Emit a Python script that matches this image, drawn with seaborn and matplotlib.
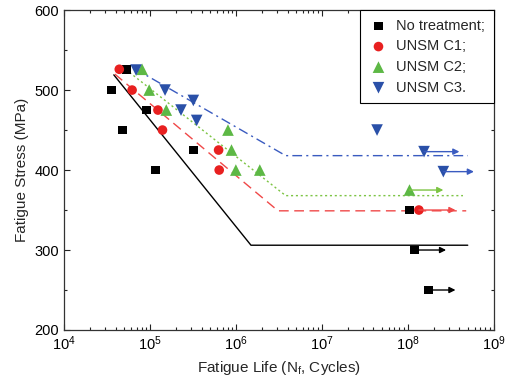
import numpy as np
import pandas as pd
import matplotlib
matplotlib.use("Agg")
import matplotlib.pyplot as plt
import seaborn as sns
from matplotlib.ticker import LogLocator, MultipleLocator, NullFormatter

# data (cycles, MPa)
no_n = [3.6e4, 5.3e4, 4.8e4, 9.1e4, 3.2e5, 1.17e5, 1.05e8, 1.2e8, 1.75e8]
no_s = [500, 526, 450, 475, 425, 400, 350, 300, 250]
c1_n = [4.4e4, 6.2e4, 1.24e5, 1.4e5, 6.3e5, 6.4e5, 1.35e8]
c1_s = [526, 500, 475, 450, 425, 400, 350]
c2_n = [8.1e4, 9.8e4, 1.55e5, 8.1e5, 8.9e5, 1.0e6, 1.9e6, 1.05e8]
c2_s = [526, 500, 475, 450, 425, 400, 400, 375]
c3_n = [6.9e4, 1.5e5, 3.2e5, 2.3e5, 3.5e5, 4.4e7, 1.55e8, 2.6e8]
c3_s = [525, 500, 487, 475, 462, 450, 423, 398]

# fitted S-N lines (start, knee, end)
fit_no_n = [3.8e4, 1.5e6, 5e8]
fit_no_s = [519, 306, 306]
fit_c1_n = [3.9e4, 3.1e6, 4.8e8]
fit_c1_s = [520, 349, 349]
fit_c2_n = [5.8e4, 3.8e6, 4.4e8]
fit_c2_s = [522, 368, 368]
fit_c3_n = [6.6e4, 3.8e6, 5e8]
fit_c3_s = [527, 418, 418]

# run-outs: (start N, end N, stress, series)
runout_start = [1.2e8, 1.75e8, 1.35e8, 1.05e8, 1.55e8, 2.6e8]
runout_end = [2.8e8, 3.6e8, 3.6e8, 2.6e8, 4.0e8, 5.9e8]
runout_s = [300, 250, 350, 375, 423, 398]
runout_grp = ["No treatment;", "No treatment;", "UNSM C1;", "UNSM C2;", "UNSM C3.", "UNSM C3."]

labels = ["No treatment;", "UNSM C1;", "UNSM C2;", "UNSM C3."]
point_colors = ["#000000", "#E82020", "#5DB845", "#2A50A8"]
line_colors = ["#000000", "#F04848", "#7CC443", "#3A5BC0"]
markers = ["s", "o", "^", "v"]
msizes = [40, 48, 70, 70]
styles = ["-", (0, (7, 4)), (0, (1.5, 2)), (0, (7, 3, 1.5, 3))]

sns.set_style("ticks")
plt.rcParams["font.family"] = ["Liberation Sans", "DejaVu Sans"]
plt.rcParams["mathtext.fontset"] = "custom"
plt.rcParams["mathtext.rm"] = "Liberation Sans"
plt.rcParams["mathtext.it"] = "Liberation Sans"

fig = plt.figure(figsize=(5.06, 3.88), dpi=100)
ax = fig.add_axes([0.1265, 0.1495, 0.849, 0.8245])

pts = pd.DataFrame({
    "N": no_n + c1_n + c2_n + c3_n,
    "S": no_s + c1_s + c2_s + c3_s,
    "grp": [labels[0]] * len(no_n) + [labels[1]] * len(c1_n)
           + [labels[2]] * len(c2_n) + [labels[3]] * len(c3_n),
})
fits = [(fit_no_n, fit_no_s), (fit_c1_n, fit_c1_s), (fit_c2_n, fit_c2_s), (fit_c3_n, fit_c3_s)]

for i, (fn, fs) in enumerate(fits):
    sns.lineplot(x=fn, y=fs, sort=False, color=line_colors[i], linestyle=styles[i],
                 lw=1.0, ax=ax, legend=False)

for i, lab in enumerate(labels):
    d = pts[pts["grp"] == lab]
    sns.scatterplot(data=d, x="N", y="S", marker=markers[i], s=msizes[i],
                    color=point_colors[i], edgecolor="none", ax=ax, label=lab, zorder=3)

for x0, x1, s, g in zip(runout_start, runout_end, runout_s, runout_grp):
    c = line_colors[labels.index(g)]
    ax.annotate("", xy=(x1, s), xytext=(x0, s),
                arrowprops=dict(arrowstyle="-|>", color=c, lw=1.0,
                                mutation_scale=9, shrinkA=0, shrinkB=0))

ax.set_xscale("log")
ax.set_xlim(1e4, 1e9)
ax.set_ylim(200, 600)
ax.yaxis.set_major_locator(MultipleLocator(100))
ax.yaxis.set_minor_locator(MultipleLocator(50))
ax.xaxis.set_major_locator(LogLocator(base=10, numticks=10))
ax.xaxis.set_minor_locator(LogLocator(base=10, subs=np.arange(2, 10), numticks=20))
ax.xaxis.set_minor_formatter(NullFormatter())
ax.tick_params(which="both", direction="in", top=True, right=True, labelsize=10.5,
               width=0.8, colors="#222222", labelcolor="black")
ax.tick_params(which="major", length=4)
ax.tick_params(which="minor", length=2)
for sp in ax.spines.values():
    sp.set_linewidth(0.9)
    sp.set_color("#333333")

ax.set_xlabel("Fatigue Life (N$_\\mathrm{f}$, Cycles)", fontsize=11, labelpad=4)
ax.set_ylabel("Fatigue Stress (MPa)", fontsize=11, labelpad=4)

leg = ax.legend(loc="upper right", bbox_to_anchor=(1, 1), borderaxespad=0, fontsize=10.5,
                frameon=True, fancybox=False, edgecolor="black", framealpha=1,
                handletextpad=0.5, labelspacing=0.45, borderpad=0.6, handlelength=1.4)
leg.get_frame().set_linewidth(0.8)

fig.savefig("out.png", dpi=100)
